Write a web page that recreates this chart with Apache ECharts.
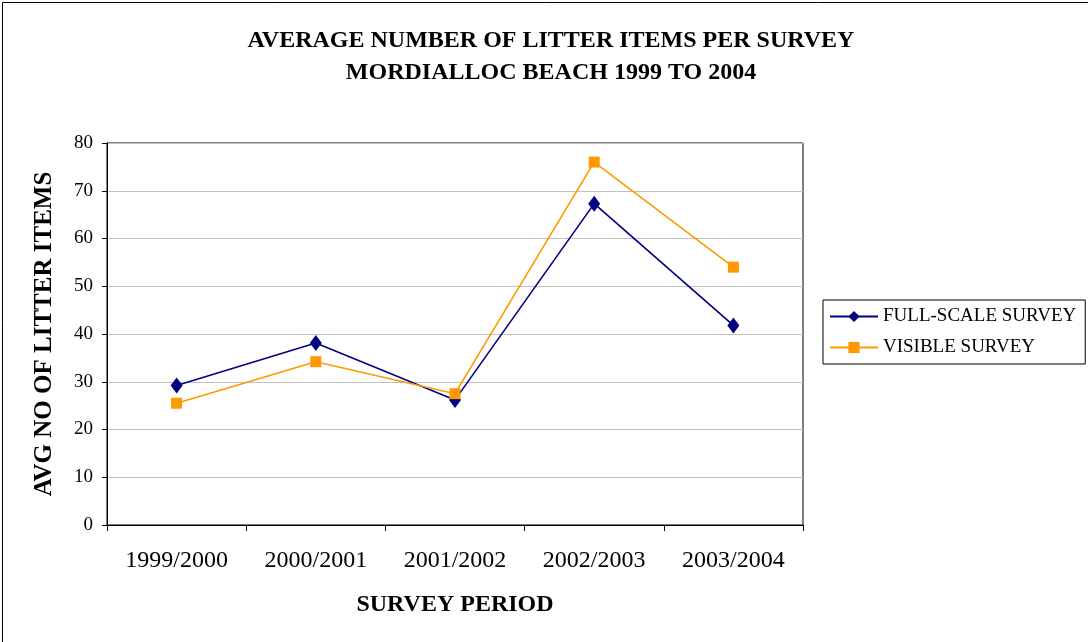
<!DOCTYPE html>
<html>
<head>
<meta charset="utf-8">
<script src="https://cdn.jsdelivr.net/npm/echarts@6/dist/echarts.min.js"></script>
<style>
  html, body { margin: 0; padding: 0; background: #fff; }
  #chart { width: 1088px; height: 642px; }
</style>
</head>
<body>
<div id="chart"></div>
<script>
var periods = ['1999/2000', '2000/2001', '2001/2002', '2002/2003', '2003/2004'];
var fullScale = [29.2, 38.1, 26.2, 67.3, 41.8];
var visible = [25.5, 34.2, 27.5, 76.0, 54.0];
var yTicks = { min: 0, max: 80, interval: 10 };

var myChart = echarts.init(document.getElementById('chart'));
var serif = '"Liberation Serif", "DejaVu Serif", serif';

myChart.setOption({
    animation: false,
    backgroundColor: '#fff',
    graphic: [{
        type: 'rect',
        left: 0, top: 0,
        shape: { width: 1087, height: 640 },
        style: { fill: 'none', stroke: '#000', lineWidth: 1 },
        silent: true
    }],
    title: {
        text: 'AVERAGE NUMBER OF LITTER ITEMS PER SURVEY\nMORDIALLOC BEACH 1999 TO 2004',
        left: 546,
        textAlign: 'center',
        top: 20,
        textStyle: {
            fontFamily: serif,
            fontWeight: 'bold',
            fontSize: 24,
            lineHeight: 32,
            color: '#000'
        }
    },
    legend: {
        orient: 'vertical',
        left: 823,
        top: 300,
        padding: [7, 9, 7, 6],
        itemGap: 12,
        itemWidth: 48,
        itemHeight: 14,
        borderColor: '#000',
        borderWidth: 1,
        textStyle: { fontFamily: serif, fontSize: 19, color: '#000' },
        data: ['FULL-SCALE SURVEY', 'VISIBLE SURVEY']
    },
    grid: { left: 107, right: 285, top: 143, bottom: 117, show: true, borderColor: '#000', borderWidth: 1 },
    xAxis: {
        type: 'category',
        data: periods,
        boundaryGap: true,
        name: 'SURVEY PERIOD',
        nameLocation: 'middle',
        nameGap: 68,
        nameTextStyle: { fontFamily: serif, fontWeight: 'bold', fontSize: 24, color: '#000' },
        axisLine: { lineStyle: { color: '#000', width: 1 } },
        axisTick: { show: true, length: 6, lineStyle: { color: '#000' } },
        axisLabel: { fontFamily: serif, fontSize: 24, color: '#000', margin: 24 }
    },
    yAxis: {
        type: 'value',
        min: yTicks.min,
        max: yTicks.max,
        interval: yTicks.interval,
        name: 'AVG NO OF LITTER ITEMS',
        nameLocation: 'middle',
        nameGap: 50,
        nameTextStyle: { fontFamily: serif, fontWeight: 'bold', fontSize: 25, color: '#000' },
        axisLine: { show: true, lineStyle: { color: '#000', width: 1 } },
        axisTick: { show: true, length: 5, lineStyle: { color: '#000' } },
        axisLabel: { fontFamily: serif, fontSize: 19, color: '#000', margin: 14 },
        splitLine: { lineStyle: { color: '#c0c0c0', width: 1 } }
    },
    series: [
        {
            name: 'FULL-SCALE SURVEY',
            type: 'line',
            data: fullScale,
            symbol: 'diamond',
            symbolSize: [12, 16],
            lineStyle: { color: '#000080', width: 1.6 },
            itemStyle: { color: '#000080' }
        },
        {
            name: 'VISIBLE SURVEY',
            type: 'line',
            data: visible,
            symbol: 'rect',
            symbolSize: 11,
            lineStyle: { color: '#ff9900', width: 1.6 },
            itemStyle: { color: '#ff9900' }
        }
    ]
});
</script>
</body>
</html>
